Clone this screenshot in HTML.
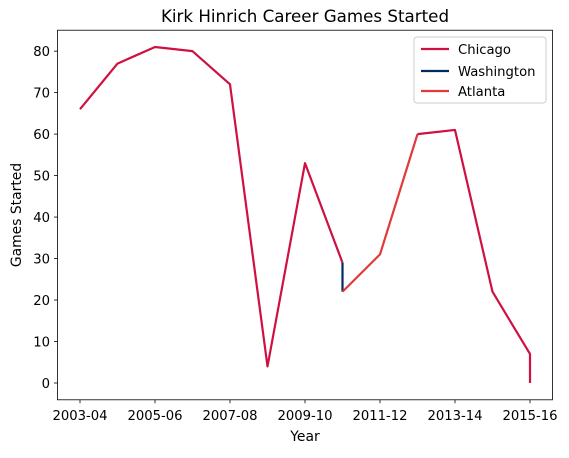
<!DOCTYPE html>
<html><head><meta charset="utf-8"><style>
body{margin:0;background:#fff;}
svg text{font-family:"DejaVu Sans","Liberation Sans",sans-serif;}
</style></head><body>
<svg id="chart" width="569" height="453" xmlns="http://www.w3.org/2000/svg">
<rect width="569" height="453" fill="#fff"/>
<text x="305" y="22" font-size="16.7" text-anchor="middle">Kirk Hinrich Career Games Started</text>
<g id="plot"></g>
<rect x="57.5" y="30.2" width="495" height="369.6" fill="none" stroke="#000" stroke-width="0.8"/>
<text x="305" y="441" font-size="13.9" text-anchor="middle">Year</text>
<text x="21" y="215" font-size="13.9" text-anchor="middle" transform="rotate(-90 21 215)">Games Started</text>
<g>
<rect x="414" y="37" width="132" height="66" rx="3" fill="#fff" stroke="#ccc" stroke-width="1"/>
<line x1="421" y1="49" x2="449" y2="49" stroke="#CE1141" stroke-width="2.2"/>
<text x="458" y="54" font-size="13.2">Chicago</text>
<line x1="421" y1="71" x2="449" y2="71" stroke="#002B5C" stroke-width="2.2"/>
<text x="458" y="76" font-size="13.2">Washington</text>
<line x1="421" y1="91" x2="449" y2="91" stroke="#E03A3E" stroke-width="2.2"/>
<text x="458" y="96" font-size="13.2">Atlanta</text>
</g>
</svg>
<script>
const seasons = ["2003-04","2004-05","2005-06","2006-07","2007-08","2008-09","2009-10","2010-11","2011-12","2012-13","2013-14","2014-15","2015-16"];
const xTickLabels = ["2003-04","2005-06","2007-08","2009-10","2011-12","2013-14","2015-16"];
const yTicks = [0,10,20,30,40,50,60,70,80];
const chicagoSeasons1 = ["2003-04","2004-05","2005-06","2006-07","2007-08","2008-09","2009-10","2010-11"];
const chicagoValues1 = [66,77,81,80,72,4,53,29];
const washingtonSeasons = ["2010-11","2010-11"];
const washingtonValues = [29,22];
const atlantaSeasons = ["2010-11","2011-12","2012-13"];
const atlantaValues = [22,31,60];
const chicagoSeasons2 = ["2012-13","2013-14","2014-15","2015-16","2015-16"];
const chicagoValues2 = [60,61,22,7,0];

const NS="http://www.w3.org/2000/svg";
const plot=document.getElementById('plot');
const svg=document.getElementById('chart');
function xs(s){return 80+seasons.indexOf(s)*37.5;}
function ys(v){return 383-v*(336/81);}
function mk(t,a,p){const e=document.createElementNS(NS,t);for(const k in a)e.setAttribute(k,a[k]);(p||plot).appendChild(e);return e;}

yTicks.forEach(v=>{
  const y=ys(v);
  const t=mk('line',{x1:54,x2:57.5,y1:y,y2:y,stroke:'#000','stroke-width':0.8},svg);
  
  
  const l=mk('text',{x:50,y:y+5,'font-size':13.2,'text-anchor':'end'},svg);
  l.textContent=v;
  
  
});
xTickLabels.forEach(s=>{
  const x=xs(s);
  const t=mk('line',{x1:x,x2:x,y1:399.8,y2:403.3,stroke:'#000','stroke-width':0.8},svg);
  
  
  const l=mk('text',{x:x,y:420,'font-size':13.2,'text-anchor':'middle'},svg);
  l.textContent=s;
  
  
});
function line(ss,vs,color,name){
  const pts=ss.map((s,i)=>xs(s)+','+ys(vs[i])).join(' ');
  const p=mk('polyline',{points:pts,fill:'none',stroke:color,'stroke-width':2.2,'stroke-linejoin':'round'});
  
  
}
line(chicagoSeasons1,chicagoValues1,'#CE1141','chicago-line-1');
line(washingtonSeasons,washingtonValues,'#002B5C','washington-line');
line(atlantaSeasons,atlantaValues,'#E03A3E','atlanta-line');
line(chicagoSeasons2,chicagoValues2,'#CE1141','chicago-line-2');
</script>
</body></html>
